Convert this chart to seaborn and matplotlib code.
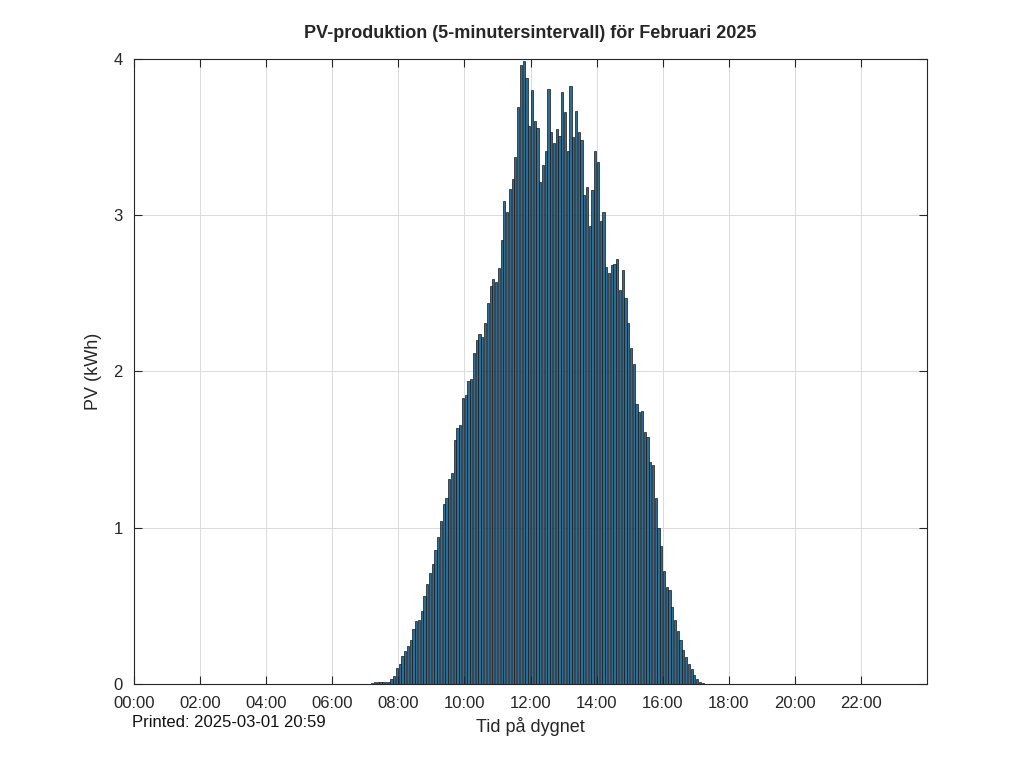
import numpy as np
import pandas as pd
import matplotlib
matplotlib.use("Agg")
import matplotlib.pyplot as plt
import seaborn as sns

# PV-produktion per 5-minutersintervall (kWh), avläst från bilden
# första bin med produktion = 86 (07:10), resten av dygnet är 0
first_bin = 86
pv_kwh = [
    0.005, 0.01, 0.01, 0.01, 0.015, 0.01, 0.015,            # 07:10 - 07:40
    0.03, 0.05, 0.10, 0.13, 0.18, 0.21, 0.24, 0.28, 0.35, 0.40,
    0.41, 0.47, 0.56, 0.64, 0.71, 0.77, 0.86, 0.94, 1.04, 1.15,
    1.19, 1.31, 1.35, 1.56, 1.64, 1.66, 1.83, 1.85, 1.94, 1.95,
    2.12, 2.20, 2.24, 2.22, 2.31, 2.44, 2.55, 2.59, 2.57, 2.66,
    2.84, 3.09, 3.02, 3.17, 3.23, 3.37, 3.69, 3.96, 3.99, 3.88,
    3.57, 3.80, 3.60, 3.56, 3.21, 3.32, 3.41, 3.81, 3.53, 3.46,
    3.55, 3.51, 3.79, 3.66, 3.41, 3.83, 3.50, 3.67, 3.53, 3.48,
    3.13, 3.18, 2.93, 3.16, 3.41, 3.34, 2.96, 3.02, 2.67, 2.63,
    2.68, 2.69, 2.72, 2.52, 2.65, 2.47, 2.31, 2.15, 2.05, 1.79,
    1.74, 1.75, 1.61, 1.58, 1.42, 1.40, 1.19, 1.00, 0.88, 0.72,
    0.62, 0.60, 0.49, 0.41, 0.34, 0.28, 0.22, 0.17, 0.13, 0.094,
    0.056, 0.03, 0.013, 0.005,
]
n_bins = 288  # 24 h * 12

tick_hours = list(range(0, 24, 2))
tick_labels = [f"{h:02d}:00" for h in tick_hours]
y_ticks = [0, 1, 2, 3, 4]

# Hela dygnet
values = [0.0] * first_bin + pv_kwh
values = values + [0.0] * (n_bins - len(values))
df = pd.DataFrame({
    "tid": (np.arange(n_bins) + 0.5) / 12.0,
    "pv": values,
})

sns.set_style("white")
plt.rcParams["font.family"] = ["Liberation Sans", "DejaVu Sans"]

fig = plt.figure(figsize=(10.24, 7.68), dpi=100)
ax = fig.add_axes([0.1309, 0.1094, 0.7744, 0.8138])

sns.barplot(data=df, x="tid", y="pv", native_scale=True, width=0.8,
            color="#2c6d91", saturation=1, edgecolor="#10181f",
            linewidth=0.5, ax=ax)

ax.set_xlim(0, 24)
ax.set_ylim(0, 4)
ax.set_xticks(tick_hours)
ax.set_xticklabels(tick_labels)
ax.set_yticks(y_ticks)
ax.set_yticklabels([str(v) for v in y_ticks])

ax.grid(True, color="#dadada", linewidth=0.7)
ax.set_axisbelow(True)
for s in ax.spines.values():
    s.set_color("#262626")
    s.set_linewidth(0.8)
    s.set_visible(True)
ax.tick_params(direction="in", length=6, width=0.8, colors="#262626",
               labelsize=12, top=True, right=True, bottom=True, left=True)
ax.tick_params(axis="x", pad=9)
ax.tick_params(axis="y", pad=8)
for lbl in ax.get_xticklabels() + ax.get_yticklabels():
    lbl.set_color("#262626")

ax.set_title("PV-produktion (5-minutersintervall) för Februari 2025",
             fontsize=13, fontweight="bold", pad=15)
ax.set_xlabel("Tid på dygnet", fontsize=13, color="#262626", labelpad=4)
ax.set_ylabel("PV (kWh)", fontsize=13, color="#262626", labelpad=8)

fig.text(0.129, 0.059, "Printed: 2025-03-01 20:59", fontsize=12,
         color="#111111", va="center", ha="left")

fig.savefig("out.png", dpi=100)
